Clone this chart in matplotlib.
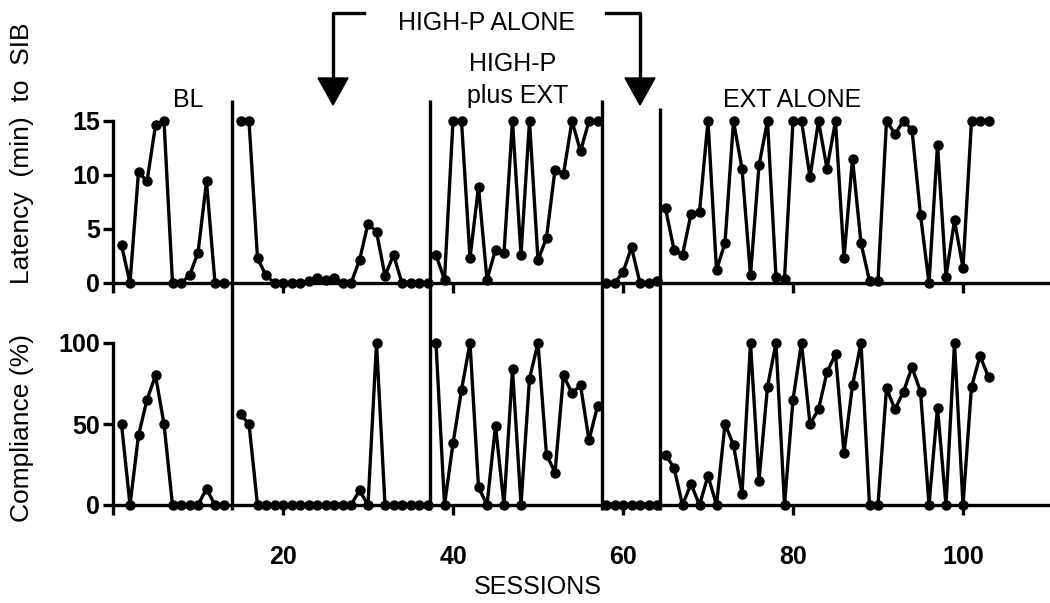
import matplotlib
matplotlib.use('Agg')
import matplotlib.pyplot as plt
from matplotlib import font_manager
from matplotlib.lines import Line2D
from matplotlib.patches import Polygon
import matplotlib.transforms as mtransforms

_names = {f.name for f in font_manager.fontManager.ttflist}
NARROW = 'Liberation Sans Narrow' if 'Liberation Sans Narrow' in _names else 'Liberation Sans'
plt.rcParams['font.family'] = ['Liberation Sans', 'DejaVu Sans']

# ---------------- data ----------------
sessions_bl = list(range(1, 14))
sessions_hp1 = list(range(15, 38))
sessions_hpext = list(range(38, 58))
sessions_hp2 = list(range(58, 65))
sessions_ext = list(range(65, 104))

latency_bl = [3.5, 0, 10.3, 9.4, 14.6, 15, 0, 0, 0.7, 2.8, 9.4, 0, 0]
latency_hp1 = [15, 15, 2.3, 0.7, 0, 0, 0, 0, 0.2, 0.5, 0.3, 0.5, 0, 0, 2.1, 5.5,
               4.75, 0.65, 2.6, 0, 0, 0, 0]
latency_hpext = [2.6, 0.3, 15, 15, 2.3, 8.9, 0.3, 3.1, 2.8, 15, 2.6, 15, 2.1, 4.2,
                 10.5, 10.1, 15, 12.2, 15, 15]
latency_hp2 = [0, 0, 1.0, 3.3, 0, 0, 0.2]
latency_ext = [6.9, 3.1, 2.6, 6.4, 6.6, 15, 1.2, 3.7, 15, 10.6, 0.7, 10.9, 15, 0.6,
               0.4, 15, 15, 9.8, 15, 10.6, 15, 2.3, 11.5, 3.7, 0.2, 0.2, 15, 13.8,
               15, 14.2, 6.3, 0, 12.8, 0.6, 5.8, 1.4, 15, 15, 15]

compliance_bl = [50, 0, 43, 65, 80, 50, 0, 0, 0, 0, 10, 0, 0]
compliance_hp1 = [56, 50, 0, 0, 0, 0, 0, 0, 0, 0, 0, 0, 0, 0, 9, 0, 100, 0, 0, 0,
                  0, 0, 0]
compliance_hpext = [100, 0, 38, 71, 100, 11, 0, 49, 0, 84, 0, 78, 100, 31, 20, 80,
                    69, 74, 40, 61]
compliance_hp2 = [0, 0, 0, 0, 0, 0, 0]
compliance_ext = [31, 23, 0, 13, 0, 18, 0, 50, 37, 7, 100, 15, 73, 100, 0, 65, 100,
                  50, 59, 82, 93, 32, 74, 100, 0, 0, 72, 59, 70, 85, 70, 0, 60, 0,
                  100, 0, 73, 92, 79]

phase_changes = [14.0, 37.3, 57.5, 64.4]
x_ticks = [0, 20, 40, 60, 80, 100]
x_ticklabels = ['', '20', '40', '60', '80', '100']
lat_ticks = [0, 5, 10, 15]
comp_ticks = [0, 50, 100]

# ---------------- figure ----------------
W, H = 1050, 603
fig = plt.figure(figsize=(W / 100, H / 100), dpi=100)


def fx(px):
    return px / W


def fy(py):
    return 1 - py / H


ax_top = fig.add_axes([fx(113), fy(283), fx(1048) - fx(113), fy(121) - fy(283)])
ax_bot = fig.add_axes([fx(113), fy(505), fx(1048) - fx(113), fy(343) - fy(505)])

LW = 2.4
TICKFS = 18
for ax in (ax_top, ax_bot):
    ax.set_xlim(0, 110)
    for s in ('top', 'right'):
        ax.spines[s].set_visible(False)
    for s in ('left', 'bottom'):
        ax.spines[s].set_linewidth(LW)
    ax.set_xticks(x_ticks)
    ax.tick_params(axis='both', direction='out', length=7.5, width=LW,
                   labelsize=TICKFS)

ax_top.set_ylim(0, 15)
ax_top.set_yticks(lat_ticks)
ax_top.set_yticklabels([str(t) for t in lat_ticks], fontweight='bold', fontsize=TICKFS)
ax_top.set_xticklabels([''] * len(x_ticks))
ax_top.spines['left'].set_bounds(0, 15)

ax_bot.set_ylim(0, 100)
ax_bot.set_yticks(comp_ticks)
ax_bot.set_yticklabels([str(t) for t in comp_ticks], fontweight='bold', fontsize=TICKFS)
ax_bot.set_xticklabels(x_ticklabels, fontweight='bold', fontsize=TICKFS)
ax_bot.tick_params(axis='x', pad=21)
ax_top.tick_params(axis='y', pad=2)
ax_bot.tick_params(axis='y', pad=2)

top_series = [(sessions_bl, latency_bl), (sessions_hp1, latency_hp1),
              (sessions_hpext, latency_hpext), (sessions_hp2, latency_hp2),
              (sessions_ext, latency_ext)]
bot_series = [(sessions_bl, compliance_bl), (sessions_hp1, compliance_hp1),
              (sessions_hpext, compliance_hpext), (sessions_hp2, compliance_hp2),
              (sessions_ext, compliance_ext)]
for xs, ys in top_series:
    ax_top.plot(xs, ys, color='black', lw=LW, marker='o', ms=6.5, clip_on=False,
                zorder=3)
for xs, ys in bot_series:
    ax_bot.plot(xs, ys, color='black', lw=LW, marker='o', ms=6.5, clip_on=False,
                zorder=3)

# phase change lines spanning both panels
trans = mtransforms.blended_transform_factory(ax_top.transData, fig.transFigure)
line_tops = [100, 100, 100, 108]
for xc, tp in zip(phase_changes, line_tops):
    fig.add_artist(Line2D([xc, xc], [fy(510), fy(tp)], transform=trans,
                          color='black', lw=LW, solid_capstyle='butt'))

# bracket and arrows (HIGH-P ALONE)
bt = fig.transFigure
fig.add_artist(Line2D([fx(333), fx(333), fx(364)], [fy(80), fy(13), fy(13)],
                      transform=bt, color='black', lw=LW))
fig.add_artist(Line2D([fx(606), fx(640), fx(640)], [fy(13), fy(13), fy(80)],
                      transform=bt, color='black', lw=LW))
for ax_x in (333, 640):
    fig.add_artist(Polygon([[fx(ax_x - 15), fy(78)], [fx(ax_x + 15), fy(78)],
                            [fx(ax_x), fy(105)]], closed=True, transform=bt,
                           facecolor='black', edgecolor='black'))

# texts
fam = [NARROW, 'DejaVu Sans']
fig.text(fx(487), fy(23), 'HIGH-P ALONE', family=fam, fontsize=18,
         ha='center', va='center')
fig.text(fx(513), fy(64), 'HIGH-P', family=fam, fontsize=18,
         ha='center', va='center')
fig.text(fx(518), fy(96), 'plus EXT', family=fam, fontsize=18,
         ha='center', va='center')
fig.text(fx(188), fy(100), 'BL', family=fam, fontsize=18,
         ha='center', va='center')
fig.text(fx(792), fy(100), 'EXT ALONE', family=fam, fontsize=18,
         ha='center', va='center')
fig.text(fx(538), fy(587), 'SESSIONS', family=fam, fontsize=18,
         ha='center', va='center')
fig.text(fx(22), fy(153), 'Latency  (min)  to  SIB', fontsize=19, rotation=90,
         ha='center', va='center')
fig.text(fx(22), fy(428), 'Compliance (%)', fontsize=19, rotation=90,
         ha='center', va='center')

fig.savefig('out.png', dpi=100)
